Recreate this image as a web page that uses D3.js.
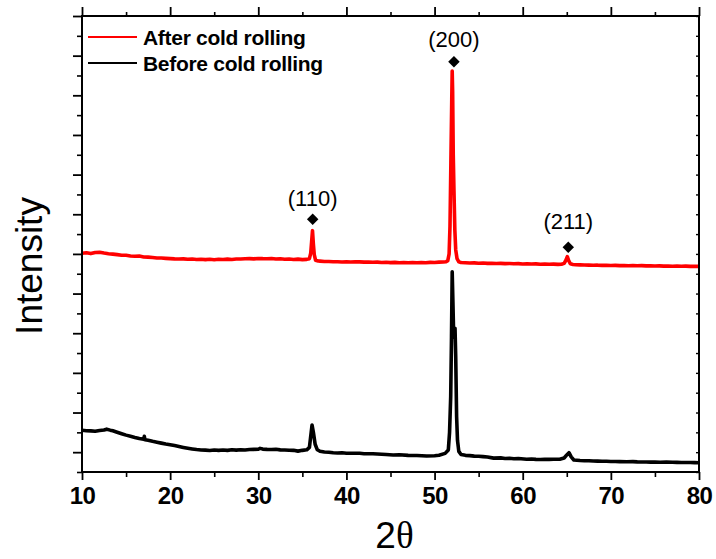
<!DOCTYPE html>
<html>
<head>
<meta charset="utf-8">
<script src="https://cdn.jsdelivr.net/npm/d3@7"></script>
<style>
  html, body { margin: 0; padding: 0; background: #fff; }
  svg { display: block; }
  text { font-family: "Liberation Sans", Arial, sans-serif; fill: #000; }
</style>
</head>
<body>
<svg id="chart" width="716" height="559"></svg>
<script>
// XRD patterns, [2θ (deg), intensity (a.u.)]
const afterRolling = [
  [10.0,5515],[10.5,5528],[11.0,5508],[11.5,5536],[12.0,5542],[12.5,5522],[13.0,5506],[13.5,5494],
  [14.0,5482],[14.5,5468],[15.0,5466],[15.5,5448],[16.0,5442],[16.5,5446],[17.0,5424],[17.5,5420],
  [18.0,5410],[18.5,5398],[19.0,5396],[19.5,5388],[20.0,5382],[20.5,5374],[21.0,5370],[21.5,5374],
  [22.0,5364],[22.5,5370],[23.0,5358],[23.5,5366],[24.0,5356],[24.5,5364],[25.0,5354],[25.5,5366],
  [26.0,5358],[26.5,5368],[27.0,5360],[27.5,5370],[28.0,5372],[28.5,5378],[29.0,5380],[29.5,5374],
  [30.0,5386],[30.5,5380],[31.0,5378],[31.5,5386],[32.0,5370],[32.5,5378],[33.0,5366],[33.5,5372],
  [34.0,5360],[34.5,5368],[35.0,5356],[35.5,5362],[35.8,5380],[35.95,5520],[36.05,5800],[36.15,6086],
  [36.25,5750],[36.35,5480],[36.5,5340],[36.8,5320],[37.0,5318],[37.5,5310],[38.0,5308],[38.5,5302],
  [39.0,5304],[39.5,5298],[40.0,5304],[40.5,5296],[41.0,5302],[41.5,5300],[42.0,5292],[42.5,5296],
  [43.0,5288],[43.5,5292],[44.0,5284],[44.5,5290],[45.0,5280],[45.5,5286],[46.0,5278],[46.5,5284],
  [47.0,5278],[47.5,5282],[48.0,5276],[48.5,5282],[49.0,5278],[49.5,5286],[50.0,5284],[50.5,5292],
  [51.0,5296],[51.3,5304],[51.5,5330],[51.65,5500],[51.75,6200],[51.85,7800],[51.95,9400],[52.0,10113],
  [52.05,9600],[52.12,8000],[52.2,7100],[52.3,6100],[52.4,5600],[52.55,5380],[52.75,5300],[53.0,5282],
  [53.5,5276],[54.0,5270],[54.5,5274],[55.0,5266],[55.5,5270],[56.0,5262],[56.5,5266],[57.0,5260],
  [57.5,5262],[58.0,5254],[58.5,5258],[59.0,5250],[59.5,5254],[60.0,5246],[60.5,5250],[61.0,5244],
  [61.5,5248],[62.0,5240],[62.5,5244],[63.0,5238],[63.5,5242],[64.0,5236],[64.4,5240],[64.7,5262],
  [64.9,5340],[65.06,5430],[65.2,5340],[65.4,5250],[65.7,5232],[66.0,5228],[66.5,5224],[67.0,5220],
  [67.5,5218],[68.0,5214],[68.5,5216],[69.0,5210],[69.5,5212],[70.0,5208],[70.5,5210],[71.0,5204],
  [71.5,5208],[72.0,5202],[72.5,5206],[73.0,5200],[73.5,5204],[74.0,5198],[74.5,5200],[75.0,5194],
  [75.5,5198],[76.0,5192],[76.5,5196],[77.0,5190],[77.5,5194],[78.0,5188],[78.5,5192],[79.0,5186],
  [79.5,5190],[80.0,5186]
];

const beforeRolling = [
  [10.0,1052],[10.5,1040],[11.0,1036],[11.5,1028],[12.0,1046],[12.5,1058],[12.8,1080],[13.2,1056],
  [13.5,1040],[13.9,1010],[14.5,966],[15.0,930],[15.5,902],[16.0,872],[16.5,846],[17.0,824],
  [17.07,900],[17.14,814],[17.5,800],[18.0,774],[18.5,752],[19.0,728],[19.5,706],[20.0,688],
  [20.5,666],[21.0,642],[21.5,620],[22.0,600],[22.5,582],[23.0,566],[23.5,556],[24.0,552],
  [24.5,544],[25.0,556],[25.5,546],[26.0,554],[26.5,546],[27.0,560],[27.5,552],[28.0,562],
  [28.5,554],[29.0,566],[29.5,570],[30.0,574],[30.2,596],[30.5,578],[31.0,570],[31.5,566],
  [32.0,572],[32.5,558],[33.0,556],[33.5,548],[34.0,546],[34.5,526],[35.0,546],[35.5,560],
  [35.8,620],[36.0,1000],[36.1,1185],[36.25,1000],[36.45,700],[36.7,560],[37.0,522],[37.5,504],
  [38.0,500],[38.5,486],[39.0,480],[39.5,486],[40.0,474],[40.8,472],[41.5,474],[42.0,462],
  [43.0,460],[44.0,448],[44.5,440],[45.3,430],[46.0,436],[47.0,420],[48.0,416],[49.1,404],
  [50.0,410],[50.5,422],[51.2,470],[51.56,555],[51.7,1000],[51.83,1903],[51.92,3400],[52.0,5051],
  [52.08,4300],[52.16,3500],[52.24,3400],[52.32,3624],[52.4,2900],[52.5,1400],[52.6,800],[52.75,520],
  [53.0,440],[53.5,420],[54.0,412],[54.5,400],[55.0,396],[55.5,388],[56.0,380],[56.7,350],
  [57.5,356],[58.0,340],[58.5,346],[59.0,334],[59.5,340],[60.45,320],[61.0,326],[61.5,318],
  [62.0,316],[62.5,322],[63.0,318],[63.5,320],[64.2,320],[64.7,352],[65.0,430],[65.25,487],
  [65.5,380],[65.8,302],[66.5,290],[67.0,284],[67.5,282],[68.0,276],[68.5,274],[69.0,270],
  [69.5,272],[70.0,266],[70.5,264],[71.0,262],[71.8,258],[72.5,262],[73.0,256],[73.5,254],
  [74.0,252],[74.5,250],[75.0,248],[75.6,244],[76.3,250],[77.0,246],[77.5,242],[78.0,240],
  [78.5,238],[79.0,238],[79.5,236],[80.0,234]
];

const seriesNames  = ["After cold rolling", "Before cold rolling"];
const seriesColors = ["#ff0000", "#000000"];

// Reflection markers: Miller indices, 2θ, marker level, label level
const peakHkl     = ["(110)", "(200)", "(211)"];
const peakTheta   = [36.17, 52.2, 65.17];
const peakMarkerI = [6373, 10348, 5667];
const peakLabelI  = [6709, 10726, 6121];

const xMajorTicks = [10, 20, 30, 40, 50, 60, 70, 80];
const xMinorTicks = [15, 25, 35, 45, 55, 65, 75];
const yMajorTicks = d3.range(500, 11501, 1000);
const yMinorTicks = d3.range(0, 11001, 1000);

const svg = d3.select("#chart");
const margin = { left: 82, top: 16, right: 17, bottom: 87 };
const W = 716, H = 559;
const x = d3.scaleLinear().domain([10, 80]).range([margin.left, W - margin.right]);
const y = d3.scaleLinear().domain([0, 11500]).range([H - margin.bottom, margin.top]);

const line = d3.line().x(d => x(d[0])).y(d => y(d[1]));

// curves
const curves = [afterRolling, beforeRolling];
svg.append("g").selectAll("path")
  .data([1, 0])
  .join("path")
  .attr("d", i => line(curves[i]))
  .attr("fill", "none")
  .attr("stroke", i => seriesColors[i])
  .attr("stroke-width", 3.6)
  .attr("stroke-linejoin", "round");

// axes
function styleAxis(g, width) {
  g.select(".domain").remove();
  g.selectAll(".tick line").attr("stroke", "#000").attr("stroke-width", width);
}
const bottomY = y(0), topY = y(11500), leftX = x(10), rightX = x(80);

svg.append("g").attr("transform", `translate(0,${bottomY})`)
  .call(d3.axisBottom(x).tickValues(xMinorTicks).tickSize(5).tickFormat(""))
  .call(g => styleAxis(g, 1.6));
svg.append("g").attr("transform", `translate(0,${bottomY})`)
  .call(d3.axisBottom(x).tickValues(xMajorTicks).tickSize(8).tickPadding(7).tickFormat(d3.format("d")))
  .call(g => styleAxis(g, 1.8))
  .call(g => g.selectAll("text")
    .attr("font-family", "Liberation Sans, Arial, sans-serif")
    .attr("font-size", 24).attr("font-weight", "bold").attr("fill", "#000")
    .attr("letter-spacing", -0.5));

svg.append("g").attr("transform", `translate(0,${topY})`)
  .call(d3.axisTop(x).tickValues(xMinorTicks).tickSize(4).tickFormat(""))
  .call(g => styleAxis(g, 1.6));
svg.append("g").attr("transform", `translate(0,${topY})`)
  .call(d3.axisTop(x).tickValues(xMajorTicks).tickSize(9).tickFormat(""))
  .call(g => styleAxis(g, 1.8));

svg.append("g").attr("transform", `translate(${leftX},0)`)
  .call(d3.axisLeft(y).tickValues(yMinorTicks).tickSize(5).tickFormat(""))
  .call(g => styleAxis(g, 1.6));
svg.append("g").attr("transform", `translate(${leftX},0)`)
  .call(d3.axisLeft(y).tickValues(yMajorTicks).tickSize(9).tickFormat(""))
  .call(g => styleAxis(g, 1.8));

svg.append("g").attr("transform", `translate(${rightX},0)`)
  .call(d3.axisRight(y).tickValues(d3.range(0, 11501, 500)).tickSize(-3).tickFormat(""))
  .call(g => styleAxis(g, 1.4));

// frame
svg.append("rect")
  .attr("x", leftX).attr("y", topY)
  .attr("width", rightX - leftX).attr("height", bottomY - topY)
  .attr("fill", "none").attr("stroke", "#000").attr("stroke-width", 2);

// peak markers and labels
const peaks = peakHkl.map((h, i) => ({ h, t: peakTheta[i], m: peakMarkerI[i], l: peakLabelI[i] }));
svg.append("g").selectAll("path")
  .data(peaks)
  .join("path")
  .attr("d", d3.symbol(d3.symbolSquare, 66))
  .attr("transform", d => `translate(${x(d.t)},${y(d.m)}) rotate(45)`)
  .attr("fill", "#000");
svg.append("g").selectAll("text")
  .data(peaks)
  .join("text")
  .attr("x", d => x(d.t))
  .attr("y", d => y(d.l))
  .attr("text-anchor", "middle")
  .attr("font-size", 22)
  .text(d => d.h);

// legend
const legend = svg.append("g");
seriesNames.forEach((name, i) => {
  const ly = 37 + i * 26;
  legend.append("line")
    .attr("x1", 88).attr("x2", 137).attr("y1", ly).attr("y2", ly)
    .attr("stroke", seriesColors[i]).attr("stroke-width", 2.2);
  legend.append("text")
    .attr("x", 143).attr("y", ly + 8)
    .attr("font-size", 21).attr("font-weight", "bold")
    .attr("letter-spacing", -0.3)
    .text(name);
});

// axis titles
svg.append("text")
  .attr("transform", `translate(41.5,${(topY + bottomY) / 2 + 22}) rotate(-90)`)
  .attr("text-anchor", "middle")
  .attr("font-size", 37)
  .text("Intensity");

const xt = svg.append("text")
  .attr("x", 394.5).attr("y", 548)
  .attr("text-anchor", "middle")
  .attr("font-size", 37);
xt.append("tspan").text("2");
xt.append("tspan").attr("font-family", "Liberation Serif, Times New Roman, serif").text("θ");
</script>
</body>
</html>
